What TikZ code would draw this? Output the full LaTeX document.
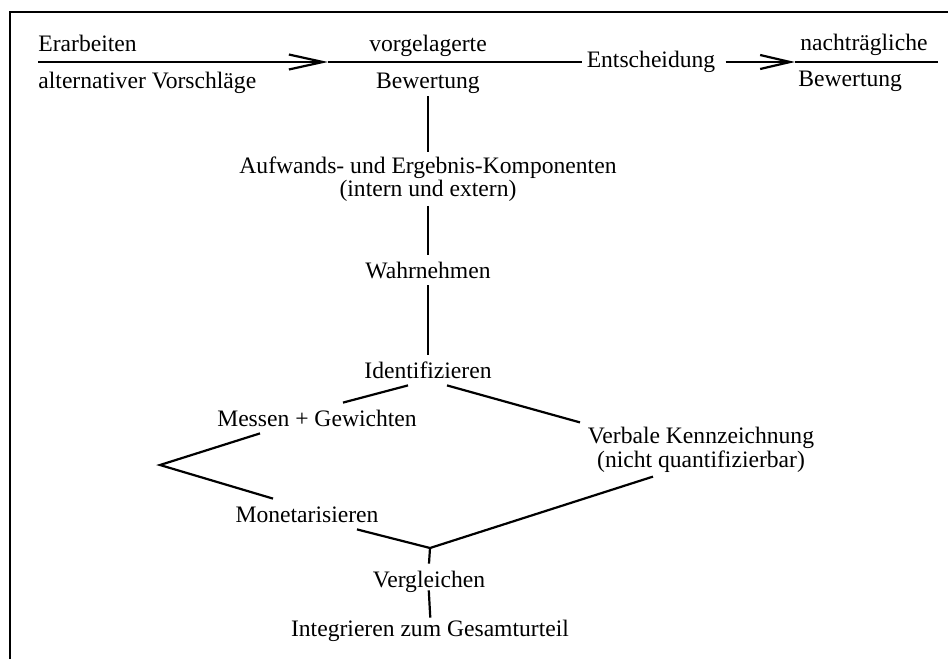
\documentclass[tikz,border=0pt]{standalone}
\usepackage{fontspec}
\setmainfont{Liberation Serif}
\usetikzlibrary{positioning,arrows.meta}

\begin{document}
\begin{tikzpicture}
[
x=0.5pt, y=-0.5pt,
text-a/.style={inner sep=2pt, font=\fontsize{11.8}{12}\selectfont, text height=9.5pt, text depth=1.5pt},
text-b/.style={inner sep=2pt, font=\fontsize{11.8}{12}\selectfont, align=center},
line-a/.style={line width=1.1pt},
arrow-a/.style={line-a, -{Straight Barb[length=17pt, width=7.5pt, line width=1.1pt]}},
arrow-b/.style={line-a, -{Straight Barb[length=15pt, width=7pt, line width=1.1pt]}}
]

\useasboundingbox (0,0) rectangle (948,659);
\draw [line-a] (10,659) -- (10,12) -- (948,12);

\node (erarb)   [text-a, anchor=west] at (34,43)   {Erarbeiten};
\node (altern)  [text-a, anchor=west] at (34,80)   {alternativer Vorschläge};
\node (vorg)    [text-a]              at (428,43)  {vorgelagerte};
\node (bew-1)   [text-a, below = 3.5pt of vorg]    {Bewertung};
\node (entsch)  [text-a]              at (651,59)  {Entscheidung};
\node (nachtr)  [text-a, anchor=west] at (796,42)  {nachträgliche};
\node (bew-2)   [text-a, anchor=west] at (794,78)  {Bewertung};
\node (aufw)    [text-b, font=\fontsize{11.8}{10.5}\selectfont] at (428,179) {Aufwands- und Ergebnis-Komponenten\\(intern und extern)};
\node (wahrn)   [text-a]              at (428,270) {Wahrnehmen};
\node (ident)   [text-a]              at (428,370) {Identifizieren};
\node (messen)  [text-a]              at (317,418) {Messen + Gewichten};
\node (monet)   [text-a]              at (307,514) {Monetarisieren};
\node (verbal)  [text-b]              at (701,449.5) {Verbale Kennzeichnung\\(nicht quantifizierbar)};
\node (vergl)   [text-a]              at (429,579) {Vergleichen};
\node (integr)  [text-a]              at (430,628) {Integrieren zum Gesamturteil};

\coordinate (line-start) at (38,62);
\coordinate (tip-1)      at (328,62);
\coordinate (tip-2)      at (795,62);
\coordinate (line-end)   at (938,62);
\coordinate (vertex-l)   at (160,465);
\coordinate (vertex-b)   at (430,548);

% obere Zeile
\draw [arrow-a] (line-start) -- (tip-1);
\draw [line-a]  (tip-1) -- (entsch.west |- tip-1);
\draw [arrow-b, shorten <=3pt] (entsch.east |- tip-2) -- (tip-2);
\draw [line-a]  (tip-2) -- (line-end);

% Bewertungskette
\draw [line-a] (bew-1.south) -- (aufw.north);
\draw [line-a] (aufw.south) -- (wahrn.north);
\draw [line-a] (wahrn.south) -- (ident.north);
\draw [line-a] ([xshift=-10pt]ident.south) -- ([xshift=13pt]messen.north);
\draw [line-a] ([xshift=9.5pt]ident.south) -- ([xshift=-60.5pt]verbal.north);
\draw [line-a] ([xshift=-28.5pt]messen.south) -- (vertex-l) -- ([xshift=-17pt]monet.north);
\draw [line-a] ([xshift=25pt]monet.south) -- (vertex-b) -- ([xshift=-24pt]verbal.south);
\draw [line-a] (vertex-b) -- (vergl.north);
\draw [line-a, shorten <=-2pt, shorten >=-2.5pt] (vergl.south) -- (integr.north);

\end{tikzpicture}
\end{document}
